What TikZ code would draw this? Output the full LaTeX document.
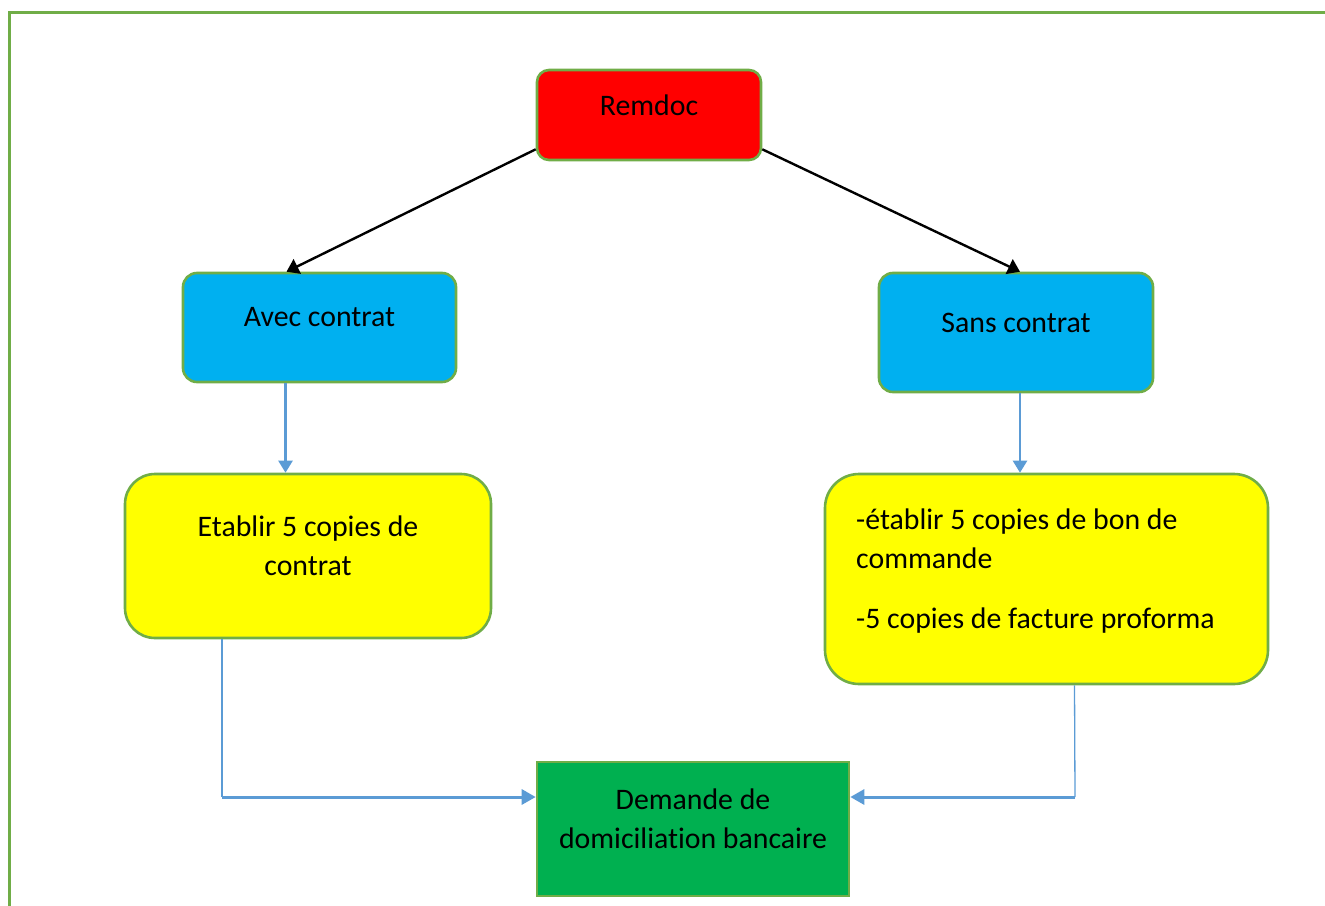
\documentclass[tikz,border=0pt]{standalone}
\usepackage{fontspec}
\setmainfont[Ligatures=NoCommon]{Carlito}
\usetikzlibrary{arrows.meta}
\definecolor{edgegreen}{HTML}{70AD47}
\definecolor{remred}{HTML}{FF0000}
\definecolor{skyblue}{HTML}{00B0F0}
\definecolor{lemon}{HTML}{FFFF00}
\definecolor{leaf}{HTML}{00B050}
\definecolor{linkblue}{HTML}{5B9BD5}
\begin{document}
\begin{tikzpicture}[x=1pt,y=-1pt,
  box/.style={draw=edgegreen, line width=2.6pt, rounded corners=#1},
  box/.default=14pt,
  lbl/.style={font=\fontsize{29.8}{39}\selectfont, text=black, align=center, yshift=10pt},
  blackarrow/.style={line width=2.4pt, -{Triangle[length=12pt,width=16pt]}},
  bluearrow/.style={draw=linkblue, line width=2.4pt, -{Triangle[length=12pt,width=14pt]}},
  blueline/.style={draw=linkblue, line width=1.3pt},
  widearrow/.style={draw=linkblue, line width=3pt, -{Triangle[length=14pt,width=15pt]}}]
\useasboundingbox (0,0) rectangle (1325,905);
\clip (0,0) rectangle (1325,905);
% outer frame, open to the right and bottom
\draw[edgegreen, line width=3pt] (9,12) rectangle (1345,925);

% boxes
\node[box=12pt, fill=remred, minimum width=224pt, minimum height=90pt,
      label={[lbl]center:Remdoc}] (remdoc) at (649,115) {};
\node[box=14pt, fill=skyblue, minimum width=273pt, minimum height=109pt,
      label={[lbl]center:Avec contrat}] (avec) at (319.5,327.5) {};
\node[box=14pt, fill=skyblue, minimum width=274pt, minimum height=119pt,
      label={[lbl]center:Sans contrat}] (sans) at (1016,332.5) {};
\node[box=30pt, fill=lemon, minimum width=366pt, minimum height=164pt,
      label={[lbl]center:Etablir 5 copies de\\contrat}] (etablir) at (308,556) {};
\node[box=34pt, fill=lemon, minimum width=443pt, minimum height=210pt,
      label={[lbl, align=left, anchor=west, xshift=29pt, yshift=-2pt]west:-établir 5 copies de bon de\\commande\\[21pt]-5 copies de facture proforma}] (proforma) at (1046.5,579) {};
\node[draw=edgegreen, line width=2.6pt, fill=leaf, minimum width=312pt, minimum height=134pt,
      label={[lbl]center:Demande de\\domiciliation bancaire}] (demande) at (693,829) {};

% branches from the top box
\draw[blackarrow] ([yshift=12pt]remdoc.south west) -- ([xshift=-33pt]avec.north);
\draw[blackarrow] ([yshift=12pt]remdoc.south east) -- ([xshift=4pt]sans.north);

% down to the yellow boxes
\draw[bluearrow] ([xshift=-34pt]avec.south) -- ([xshift=-34pt]avec.south |- etablir.north);
\draw[bluearrow] ([xshift=4pt]sans.south) -- ([xshift=4pt]sans.south |- proforma.north);

% elbows into the final box
\coordinate (lcorner) at (222,797);
\coordinate (rcorner) at (1075,797);
\draw[blueline] ([xshift=-86pt]etablir.south) -- (lcorner);
\draw[widearrow] (lcorner) -- (lcorner -| demande.west);
\draw[blueline] ([xshift=28pt]proforma.south) -- (rcorner);
\draw[widearrow] (rcorner) -- (rcorner -| demande.east);
\end{tikzpicture}
\end{document}
